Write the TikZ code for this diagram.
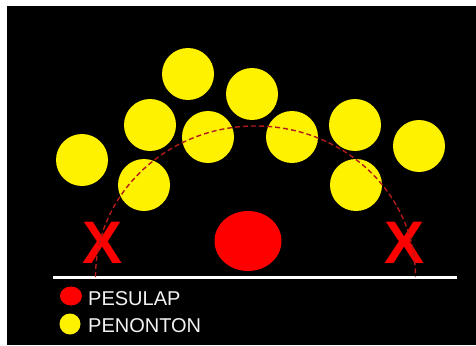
\documentclass[tikz,border=0pt]{standalone}
\usepackage{fontspec}
\setmainfont{Liberation Sans}
\usetikzlibrary{shapes.geometric}
\definecolor{arcred}{HTML}{B41A1A}
\definecolor{legendgray}{HTML}{F2F2F2}

\begin{document}
\begin{tikzpicture}[x=1pt, y=-1pt,
  fan/.style={circle, fill=yellow, minimum size=52pt, inner sep=0pt},
  cross/.style={text=red, font=\fontsize{60}{60}\selectfont\bfseries, inner sep=0pt},
  legtext/.style={text=legendgray, font=\fontsize{20}{24}\selectfont, inner sep=0pt, anchor=base west},
  ring/.style={arcred, line width=1.4pt, dash pattern=on 5pt off 3pt}
]
  % background
  \useasboundingbox (0,0) rectangle (476,345);
  \fill[white] (0,0) rectangle (476,345);
  \fill[black] (7,6) rectangle (476,345);

  % audience
  \node[fan] (f1)  at (188,74)  {};
  \node[fan] (f2)  at (252,94)  {};
  \node[fan] (f3)  at (150,125) {};
  \node[fan] (f4)  at (208,137) {};
  \node[fan] (f5)  at (292,137) {};
  \node[fan] (f6)  at (355,125) {};
  \node[fan] (f7)  at (419,146) {};
  \node[fan] (f8)  at (82,160)  {};
  \node[fan] (f9)  at (144,185) {};
  \node[fan] (f10) at (356,185) {};

  % performer
  \node[ellipse, fill=red, minimum width=67pt, minimum height=60pt, inner sep=0pt] (magician) at (248,241) {};

  % forbidden spots
  \node[cross] (xleft)  at (103,243) {X};
  \node[cross] (xright) at (405,243) {X};

  % stage edge
  \coordinate (edgeL) at (53,277);
  \coordinate (edgeR) at (457,277);
  \draw[white, line width=3pt] (edgeL) -- (edgeR);

  % viewing range
  \coordinate (ringL) at (95.5,277);
  \draw[ring] (ringL) arc[start angle=180, end angle=360, x radius=160, y radius=151];

  % legend
  \node[ellipse, fill=red, minimum width=22pt, minimum height=19pt, inner sep=0pt] (legred) at (71,296) {};
  \node[circle, fill=yellow, minimum size=21pt, inner sep=0pt] (legyellow) at (70,324) {};
  \node[legtext] (legpesulap)  at (88,305) {PESULAP};
  \node[legtext] (legpenonton) at (88,332) {PENONTON};
\end{tikzpicture}
\end{document}
